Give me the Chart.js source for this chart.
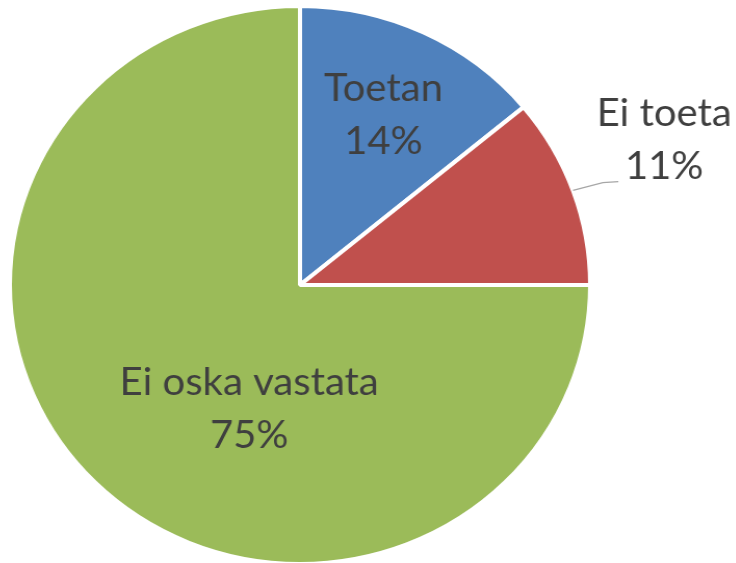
<!DOCTYPE html>
<html>
<head>
<meta charset="utf-8">
<script src="https://cdn.jsdelivr.net/npm/chart.js@4"></script>
<style>
  html, body { margin: 0; padding: 0; background: #fff; overflow: hidden; }
  #wrap { position: relative; width: 736px; height: 600px; transform: scaleX(1.04); transform-origin: 300px 285px; }
</style>
</head>
<body>
<div id="wrap"><canvas id="c" width="736" height="600"></canvas></div>
<script>
const categories = ["Toetan", "Ei toeta", "Ei oska vastata"];
const values = [14, 11, 75];
const percentLabels = ["14%", "11%", "75%"];
const sliceColors = ["#4F81BD", "#C0504D", "#9BBB59"];

// label placement relative to slice geometry (fractions of radius)
const labelPlacement = [
  { mode: "mid", r: 0.675 },
  { mode: "mid", r: 1.36, angleShift: -0.05, leader: true },
  { mode: "offset", dx: -0.175, dy: 0.44 }
];

const FONT_SIZE = 38.5;
const LINE_H = 53;
const TEXT_COLOR = "#3F3F3F";

const labelPlugin = {
  id: "sliceLabels",
  afterDatasetsDraw(chart) {
    const ctx = chart.ctx;
    const meta = chart.getDatasetMeta(0);
    ctx.save();
    ctx.font = FONT_SIZE + "px Lato, 'Open Sans', sans-serif";
    ctx.fillStyle = TEXT_COLOR;
    ctx.textAlign = "center";
    ctx.textBaseline = "alphabetic";
    const capHalf = 13.3;
    meta.data.forEach((arc, i) => {
      const p = arc.getProps(["x", "y", "startAngle", "endAngle", "outerRadius"], true);
      const mid = (p.startAngle + p.endAngle) / 2;
      const pl = labelPlacement[i];
      let cx, cy;
      if (pl.mode === "mid") {
        const a = mid + (pl.angleShift || 0);
        cx = p.x + Math.cos(a) * p.outerRadius * pl.r;
        cy = p.y + Math.sin(a) * p.outerRadius * pl.r;
      } else {
        cx = p.x + pl.dx * p.outerRadius;
        cy = p.y + pl.dy * p.outerRadius;
      }
      const lines = [categories[i], percentLabels[i]];
      let lastBase = 0;
      lines.forEach((t, k) => {
        const by = cy + (k - 0.5) * LINE_H + capHalf;
        ctx.fillText(t, cx, by);
        lastBase = by;
      });
      if (pl.leader) {
        const sx = p.x + Math.cos(mid) * p.outerRadius;
        const sy = p.y + Math.sin(mid) * p.outerRadius;
        const ex = cx - 44;
        const ey = lastBase + 3;
        ctx.strokeStyle = "#A6A6A6";
        ctx.lineWidth = 1.3;
        ctx.beginPath();
        ctx.moveTo(sx, sy);
        ctx.lineTo(ex - 15, ey + 1);
        ctx.lineTo(ex, ey);
        ctx.stroke();
      }
    });
    ctx.restore();
  }
};

new Chart(document.getElementById("c"), {
  type: "pie",
  data: {
    labels: categories,
    datasets: [{
      data: values,
      backgroundColor: sliceColors,
      borderColor: "#FFFFFF",
      borderWidth: 4,
      hoverOffset: 0
    }]
  },
  options: {
    responsive: false,
    animation: false,
    rotation: 0,
    layout: { padding: { left: 19, right: 155, top: 4, bottom: 34 } },
    plugins: {
      legend: { display: false },
      tooltip: { enabled: false },
      title: { display: false }
    }
  },
  plugins: [labelPlugin]
});
</script>
</body>
</html>
